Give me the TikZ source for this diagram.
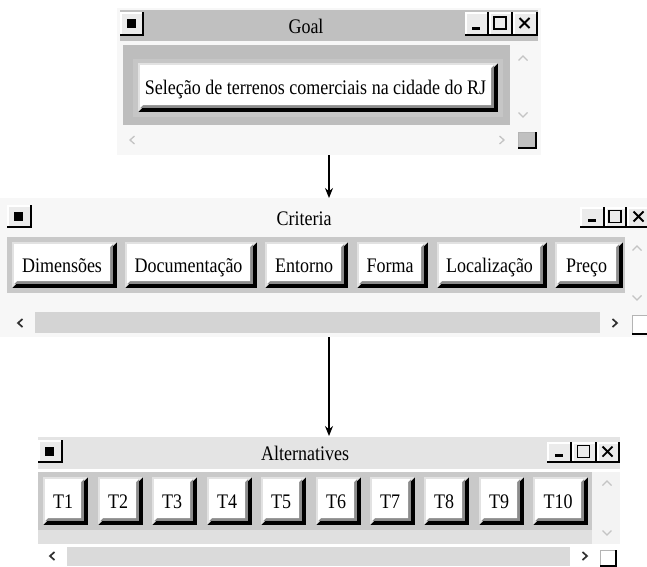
\documentclass[tikz,border=0pt]{standalone}
\usepackage{fontspec}
\setmainfont{Liberation Serif}
\usetikzlibrary{arrows.meta}
\definecolor{winbg}{HTML}{F7F7F7}
\definecolor{gbar}{HTML}{C0C0C0}
\definecolor{gpanel}{HTML}{BDBDBD}
\definecolor{gpanelin}{HTML}{C6C6C6}
\definecolor{cpanel}{HTML}{C9C9C9}
\definecolor{ctrack}{HTML}{D4D4D4}
\definecolor{abar}{HTML}{E4E4E4}
\definecolor{aband}{HTML}{E0E0E0}
\definecolor{acol}{HTML}{F3F3F3}
\definecolor{atrack}{HTML}{DADADA}
\definecolor{chevl}{HTML}{C4C4C4}
\definecolor{chevd}{HTML}{303030}
\definecolor{bhl}{HTML}{E2E2E2}
\definecolor{bsh}{HTML}{8C8C8C}
\definecolor{tface}{HTML}{EBEBEB}
\definecolor{sqedge}{HTML}{B4B4B4}
% raised button: name, x0, y0, x1, y1, text
\newcommand\bvbtn[6]{%
  \fill[black] (#2,#3) rectangle (#4,#5);
  \fill[bhl] (#2,#3) -- (#4,#3) -- (#4-4,#3+4) -- (#2+4,#5-4) -- (#2,#5) -- cycle;
  \fill[bsh] (#2+2,#3+2) rectangle (#4-4,#5-4);
  \fill[white] (#2+2,#3+2) -- (#4-4,#3+2) -- (#4-7,#3+5) -- (#4-7,#5-7) -- (#2+5,#5-7) -- (#2+2,#5-4) -- cycle;
  \node[lbl] (#1) at ({(#2+#4)/2-2.5},{(#3+#5)/2+7}) {\scalebox{1}[1.15]{#6}};
}
\newcommand\tbframe[4]{%
  \fill[white] (#1,#2) rectangle (#3,#4);
  \fill[tface] (#1+1.5,#2+1.5) rectangle (#3-2,#4-2);
  \fill[black] (#3-2,#2) rectangle (#3,#4);
  \fill[black] (#1,#4-2) rectangle (#3,#4);
}
\newcommand\sysbtn[4]{\tbframe{#1}{#2}{#3}{#4}%
  \fill[black] ({(#1+#3)/2-5.5},{(#2+#4)/2-5}) rectangle ({(#1+#3)/2+3.5},{(#2+#4)/2+4});}
\newcommand\tmin[4]{\tbframe{#1}{#2}{#3}{#4}%
  \fill[black] ({(#1+#3)/2-5},#4-9) rectangle ({(#1+#3)/2+3},#4-6);}
\newcommand\tmax[4]{\tbframe{#1}{#2}{#3}{#4}%
  \draw[black,line width=1.6pt] ({(#1+#3)/2-7},{(#2+#4)/2-7}) rectangle ({(#1+#3)/2+5},{(#2+#4)/2+5});}
\newcommand\tclose[4]{\tbframe{#1}{#2}{#3}{#4}%
  \draw[black,line width=1.8pt] ({(#1+#3)/2-6},{(#2+#4)/2-6}) -- ({(#1+#3)/2+4},{(#2+#4)/2+4})
    ({(#1+#3)/2-6},{(#2+#4)/2+4}) -- ({(#1+#3)/2+4},{(#2+#4)/2-6});}
\newcommand\sqbtn[5]{%
  \fill[sqedge] (#1,#2) rectangle (#3,#4);
  \fill[#5] (#1+1,#2+1) rectangle (#3-2,#4-2);
  \fill[black] (#3-2,#2) rectangle (#3,#4);
  \fill[black] (#1,#4-2) rectangle (#3,#4);}
\newcommand\chup[3]{\draw[#3] (#1-4.5,#2+2.5) -- (#1,#2-2) -- (#1+4.5,#2+2.5);}
\newcommand\chdown[3]{\draw[#3] (#1-4.5,#2-2.5) -- (#1,#2+2) -- (#1+4.5,#2-2.5);}
\newcommand\chleft[3]{\draw[#3] (#1+2.5,#2-4) -- (#1-2,#2) -- (#1+2.5,#2+4);}
\newcommand\chright[3]{\draw[#3] (#1-2.5,#2-4) -- (#1+2,#2) -- (#1-2.5,#2+4);}
\begin{document}
\begin{tikzpicture}[x=1pt,y=-1pt,
  lbl/.style={inner sep=0pt, anchor=base, font=\fontsize{18}{20}\selectfont},
  win/.style={inner sep=0pt, outer sep=0pt, anchor=north west, fill=winbg},
  arr/.style={line width=1.3pt, -{Stealth[length=10pt,width=8pt]}},
  chl/.style={draw=chevl, line width=1.3pt},
  chd/.style={draw=chevd, line width=1.7pt}]
\clip (0,0) rectangle (647,566);
\fill[white] (0,0) rectangle (647,566);

% ---------- Goal window ----------
\node[win, minimum width=424pt, minimum height=147pt] (goal) at (117,8) {};
\fill[gbar] (120,10) rectangle (538,41);
\sysbtn{120}{12}{144}{36}
\node[lbl] (goalT) at (306,33) {\scalebox{1}[1.15]{Goal}};
\tmin{465}{12}{489}{36}\tmax{489}{12}{513}{36}\tclose{513}{12}{538}{36}
\fill[gpanel] (123,45) rectangle (510,125);
\fill[gpanelin] (133,59) rectangle (503,117);
\bvbtn{gSel}{138}{63}{498}{112}{Seleção de terrenos comerciais na cidade do RJ}
\chup{523}{58}{chl}\chdown{523}{115}{chl}
\chleft{132}{140}{chl}\chright{502}{140}{chl}
\sqbtn{518}{132}{537}{149}{gbar}

% ---------- Criteria window ----------
\node[win, minimum width=647pt, minimum height=139pt] (crit) at (0,198) {};
\sysbtn{7}{205}{32}{228}
\node[lbl] (critT) at (304,225) {\scalebox{1}[1.15]{Criteria}};
\tmin{580}{207}{605}{228}\tmax{605}{207}{627}{228}\tclose{627}{207}{652}{228}
\fill[cpanel] (7,237) rectangle (625,293);
\bvbtn{cDim}{12}{242}{117}{288}{Dimensões}
\bvbtn{cDoc}{125}{242}{257}{288}{Documentação}
\bvbtn{cEnt}{265}{242}{348}{288}{Entorno}
\bvbtn{cFor}{357}{242}{428}{288}{Forma}
\bvbtn{cLoc}{437}{242}{547}{288}{Localização}
\bvbtn{cPre}{555}{242}{623}{288}{Preço}
\chup{637}{248}{chl}\chdown{637}{298}{chl}
\fill[ctrack] (35,312) rectangle (600,333);
\chleft{20}{323}{chd}\chright{615}{323}{chd}
\sqbtn{632}{315}{650}{335}{white}

% ---------- Alternatives window ----------
\node[win, fill=white, minimum width=584pt, minimum height=130pt] (alt) at (38,436) {};
\fill[abar] (38,437) rectangle (620,469);
\fill[acol] (592,472) rectangle (620,544);
\fill[aband] (38,530) rectangle (592,544);
\fill[cpanel] (38,472) rectangle (592,530);
\sysbtn{38}{440}{63}{463}
\node[lbl] (altT) at (305,460) {\scalebox{1}[1.15]{Alternatives}};
\tmin{547}{442}{572}{463}\tmax{572}{442}{597}{463}\tclose{597}{442}{620}{463}
\bvbtn{t1}{43}{477}{88}{525}{T1}
\bvbtn{t2}{98}{477}{143}{525}{T2}
\bvbtn{t3}{152}{477}{197}{525}{T3}
\bvbtn{t4}{207}{477}{252}{525}{T4}
\bvbtn{t5}{261}{477}{306}{525}{T5}
\bvbtn{t6}{316}{477}{361}{525}{T6}
\bvbtn{t7}{370}{477}{415}{525}{T7}
\bvbtn{t8}{424}{477}{469}{525}{T8}
\bvbtn{t9}{479}{477}{524}{525}{T9}
\bvbtn{t10}{533}{477}{588}{525}{T10}
\chup{607}{483}{chl}\chdown{607}{533}{chl}
\fill[atrack] (67,547) rectangle (570,566);
\chleft{52}{556}{chd}\chright{585}{556}{chd}
\sqbtn{600}{550}{617}{567}{white}

% ---------- connectors ----------
\coordinate (ax) at (329,0);
\draw[arr] (goal.south -| ax) -- (crit.north -| ax);
\draw[arr] (crit.south -| ax) -- (alt.north -| ax);
\end{tikzpicture}
\end{document}
